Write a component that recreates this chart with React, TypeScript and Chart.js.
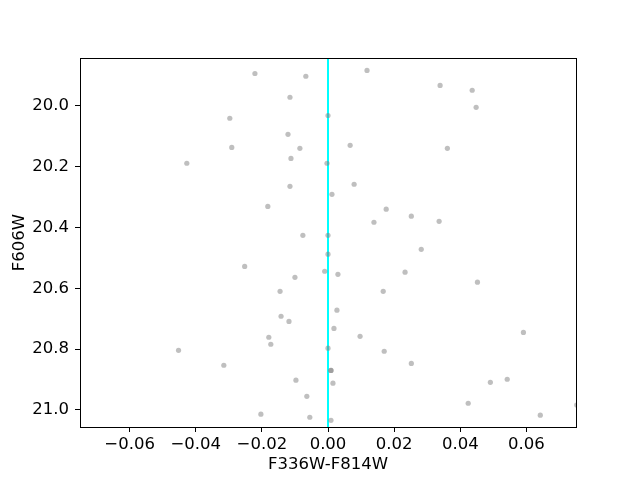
import React, { useEffect, useRef } from "react";
import { Chart, registerables } from "chart.js";

Chart.register(...registerables);

const colorX: number[] = [
  -0.0221, -0.0067, -0.0115, -0.0297, 0.0, -0.0121, -0.0291, -0.0085, -0.0427, -0.0112,
  -0.0003, -0.0115, 0.0012, -0.0182, -0.0076, 0.0, 0.0118, 0.0339, 0.0436, 0.0448,
  0.0067, 0.0361, 0.0079, 0.0176, 0.0252, 0.0139, 0.0336, 0.0, -0.0252, -0.001,
  -0.01, -0.0145, -0.0142, -0.0118, -0.0179, -0.0173, -0.0452, 0.0, -0.0315, 0.0009,
  0.0009, -0.0097, 0.0015, -0.0064, -0.0203, -0.0055, 0.0009, 0.0027, 0.0018, 0.0282,
  0.003, 0.0233, 0.0452, 0.0167, 0.0097, 0.0591, 0.017, 0.0252, 0.0491, 0.0542,
  0.0424, 0.0642, 0.0752,
];
const magY: number[] = [
  19.894, 19.903, 19.972, 20.041, 20.032, 20.094, 20.137, 20.14, 20.189, 20.173,
  20.189, 20.265, 20.291, 20.331, 20.426, 20.426, 19.884, 19.933, 19.949, 20.005,
  20.13, 20.14, 20.258, 20.34, 20.363, 20.383, 20.38, 20.488, 20.528, 20.544,
  20.564, 20.61, 20.692, 20.709, 20.761, 20.784, 20.804, 20.797, 20.853, 20.87,
  20.87, 20.902, 20.912, 20.955, 21.014, 21.024, 21.034, 20.672, 20.732, 20.472,
  20.554, 20.547, 20.58, 20.61, 20.758, 20.745, 20.807, 20.847, 20.909, 20.899,
  20.978, 21.017, 20.984,
];

const xTicks: number[] = [-0.06, -0.04, -0.02, 0.0, 0.02, 0.04, 0.06];
const yTicks: number[] = [20.0, 20.2, 20.4, 20.6, 20.8, 21.0];
const xRange: number[] = [-0.075, 0.075];
const yRange: number[] = [19.843, 21.056];
const refLineX: number[] = [0, 0];

const FONT = "'DejaVu Sans', sans-serif";
const FS = 16.5;

const boxPlugin = {
  id: "box",
  afterDraw(chart: any) {
    const { ctx, chartArea } = chart;
    ctx.save();
    ctx.strokeStyle = "#000";
    ctx.lineWidth = 1;
    ctx.strokeRect(
      Math.round(chartArea.left) + 0.5,
      Math.round(chartArea.top) + 0.5,
      Math.round(chartArea.right - chartArea.left),
      Math.round(chartArea.bottom - chartArea.top)
    );
    ctx.restore();
  },
};

export default function App() {
  const ref = useRef<HTMLCanvasElement>(null);
  useEffect(() => {
    if (!ref.current) return;
    const points = colorX.map((x, i) => ({ x, y: magY[i] }));
    const chart = new Chart(ref.current, {
      type: "scatter",
      data: {
        datasets: [
          {
            data: points,
            backgroundColor: "rgba(128,128,128,0.5)",
            borderWidth: 0,
            pointRadius: 2.6,
            pointHoverRadius: 2.6,
            clip: 0,
          } as any,
          {
            type: "line",
            data: refLineX.map((x, i) => ({ x, y: yRange[i] })),
            borderColor: "#00ffff",
            borderWidth: 2,
            pointRadius: 0,
            clip: 0,
          } as any,
        ],
      },
      options: {
        animation: false,
        responsive: false,
        events: [],
        layout: { padding: { left: 0, right: 64, top: 58, bottom: 0 } },
        plugins: { legend: { display: false }, tooltip: { enabled: false } },
        scales: {
          x: {
            type: "linear",
            min: xRange[0],
            max: xRange[1],
            afterFit: (s: any) => {
              s.height = 53;
            },
            afterBuildTicks: (s: any) => {
              s.ticks = xTicks.map((v) => ({ value: v }));
            },
            grid: { drawOnChartArea: false, drawTicks: true, tickLength: 5, color: "#000" },
            border: { display: true, color: "#000" },
            ticks: {
              color: "#000",
              font: { family: FONT, size: FS },
              padding: 3,
              maxRotation: 0,
              autoSkip: false,
              callback: (v: any) => {
                const n = Number(v);
                const s = Math.abs(n).toFixed(2);
                return n < -1e-9 ? "\u2212" + s : s;
              },
            },
            title: {
              display: true,
              text: "F336W-F814W",
              color: "#000",
              font: { family: FONT, size: FS },
              padding: { top: 1, bottom: 5 },
            },
          },
          y: {
            type: "linear",
            reverse: true,
            min: yRange[0],
            max: yRange[1],
            afterFit: (s: any) => {
              s.width = 80;
            },
            afterBuildTicks: (s: any) => {
              s.ticks = yTicks.map((v) => ({ value: v }));
            },
            grid: { drawOnChartArea: false, drawTicks: true, tickLength: 5, color: "#000" },
            border: { display: true, color: "#000" },
            ticks: {
              color: "#000",
              font: { family: FONT, size: FS },
              padding: 6,
              autoSkip: false,
              callback: (v: any) => Number(v).toFixed(1),
            },
            title: {
              display: true,
              text: "F606W",
              color: "#000",
              font: { family: FONT, size: FS },
              padding: { top: 10, bottom: 0 },
            },
          },
        },
      },
      plugins: [boxPlugin],
    });
    return () => chart.destroy();
  }, []);
  return (
    <div style={{ position: "absolute", left: 0, top: 0, width: 640, height: 480, background: "#fff" }}>
      <canvas ref={ref} width={640} height={480} style={{ width: 640, height: 480 }} />
    </div>
  );
}
